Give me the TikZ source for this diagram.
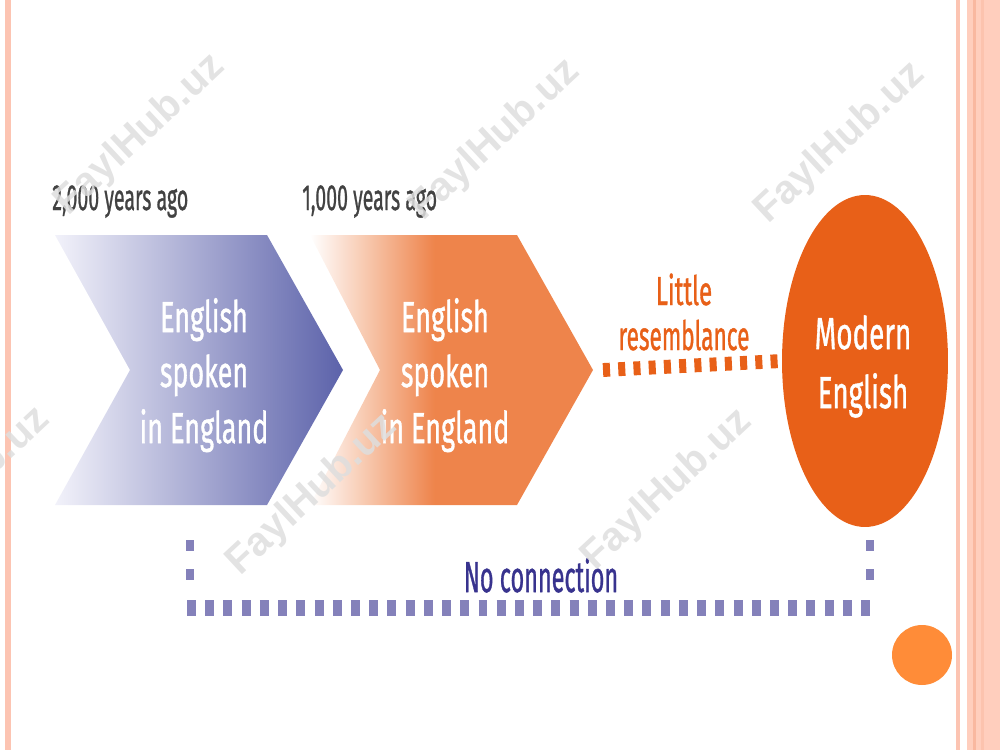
\documentclass[tikz,border=0pt]{standalone}
\usepackage{fontspec}
\setmainfont{Fira Sans}[FakeBold=1.2]
\newfontfamily\wmfont{Liberation Sans}
\usetikzlibrary{shapes.geometric}
\definecolor{pinkA}{RGB}{252,196,178}
\definecolor{pinkB}{RGB}{255,206,189}
\definecolor{pinkC}{RGB}{249,184,160}
\definecolor{blueL}{RGB}{242,242,250}
\definecolor{blueR}{RGB}{92,98,170}
\definecolor{orangeA}{RGB}{238,132,75}
\definecolor{orangeD}{RGB}{232,96,24}
\definecolor{orangeC}{RGB}{255,140,56}
\definecolor{purpleD}{RGB}{132,129,186}
\definecolor{indigoT}{RGB}{56,51,142}
\definecolor{grayT}{RGB}{66,66,66}
\definecolor{wmgray}{RGB}{222,222,222}
\pgfdeclarehorizontalshading{orshade}{100bp}{color(0bp)=(white); color(25bp)=(white); color(47bp)=(orangeA); color(100bp)=(orangeA)}
\newcommand{\condtxt}[2][0.62]{\scalebox{#1}[1]{#2}}
\tikzset{
  lbl/.style={text=grayT, font=\fontsize{20.6}{24}\selectfont, anchor=base west, inner sep=0pt},
  wtxt/.style={text=white, font=\fontsize{24.7}{30}\selectfont, anchor=base, inner sep=0pt},
  otxt/.style={text=orangeD, font=\fontsize{23}{27}\selectfont, anchor=base, inner sep=0pt},
  ntxt/.style={text=indigoT, font=\fontsize{24.7}{30}\selectfont, anchor=base, inner sep=0pt},
  odash/.style={draw=orangeD, line width=7.9pt, dash pattern=on 4pt off 4.68pt, line cap=butt},
  pvdash/.style={draw=purpleD, line width=4pt, dash pattern=on 6.2pt off 10.5pt, line cap=butt},
  phdash/.style={draw=purpleD, line width=9pt, dash pattern=on 5.1pt off 5.27pt, line cap=butt},
  wm/.style={text=wmgray, opacity=0.85, font=\wmfont\bfseries\fontsize{23}{23}\selectfont, rotate=43, inner sep=0pt}
}
\begin{document}
\begin{tikzpicture}[x=0.02cm,y=-0.02cm]
\useasboundingbox (0,0) rectangle (1000,750);
% border stripes
\fill[pinkA] (5,0) rectangle (11,750);
\fill[pinkA] (956,0) rectangle (960,750);
\fill[pinkB] (967,0) rectangle (1000,750);
\fill[pinkC] (973,0) rectangle (976,750);
\fill[pinkC!50!pinkB] (981,0) rectangle (984,750);
% chevrons
\shade[left color=blueL, right color=blueR] (55,235) -- (267,235) -- (343,370) -- (267,505) -- (55,505) -- (130,370) -- cycle;
\shade[shading=orshade] (310,235) -- (517,235) -- (593,370) -- (517,505) -- (310,505) -- (380,370) -- cycle;
\coordinate (c2tip) at (603,370);
% ellipse
\node[ellipse, fill=orangeD, minimum width=3.32cm, minimum height=6.64cm, inner sep=0pt] (modern) at (865,361) {};
% orange dashed connector
\draw[odash, shorten >=2.3pt] (c2tip) -- (modern.west);
% purple bracket
\coordinate (nl) at (190,540);
\coordinate (nlb) at (190,598);
\coordinate (nbl) at (187,608);
\coordinate (nbr) at (873,608);
\coordinate (nr) at (870,540);
\coordinate (nrb) at (870,598);
\draw[pvdash] (nl) -- (nlb);
\draw[pvdash] (nr) -- (nrb);
\draw[phdash] (nbl) -- (nbr);
% texts
\node[lbl] (t2000) at (52,210) {\condtxt[0.54]{2,000 years ago}};
\node[lbl] (t1000) at (302,210) {\condtxt[0.54]{1,000 years ago}};
\node[wtxt] (a1) at (204,332) {\condtxt{English}};
\node[wtxt] (a2) at (204,387) {\condtxt{spoken}};
\node[wtxt] (a3) at (204,443) {\condtxt{in England}};
\node[wtxt] (b1) at (445,332) {\condtxt{English}};
\node[wtxt] (b2) at (445,387) {\condtxt{spoken}};
\node[wtxt] (b3) at (445,443) {\condtxt{in England}};
\node[wtxt, font=\fontsize{25.5}{30}\selectfont] (m1) at (863,349) {\condtxt{Modern}};
\node[wtxt, font=\fontsize{25.5}{30}\selectfont] (m2) at (863,408) {\condtxt{English}};
\node[otxt] (l1) at (684,305) {\condtxt[0.6]{Little}};
\node[otxt] (l2) at (684,350) {\condtxt[0.56]{resemblance}};
\node[ntxt] (nc) at (541,592) {\condtxt[0.54]{No connection}};
% small circle
\fill[orangeC] (922,655) circle[radius=0.6cm];
% watermarks
\node[wm] (w1) at (140,135) {FaylHub.uz};
\node[wm] (w2) at (495,140) {FaylHub.uz};
\node[wm] (w3) at (840,143) {FaylHub.uz};
\node[wm] (w4) at (-35,488) {FaylHub.uz};
\node[wm] (w5) at (312,495) {FaylHub.uz};
\node[wm] (w6) at (667,490) {FaylHub.uz};
\end{tikzpicture}
\end{document}
